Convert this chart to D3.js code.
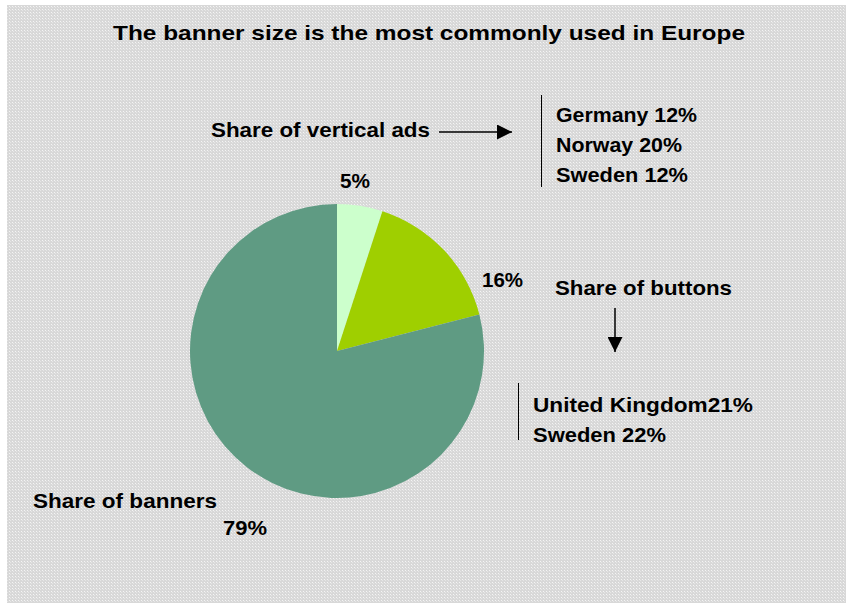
<!DOCTYPE html>
<html>
<head>
<meta charset="utf-8">
<script src="https://cdn.jsdelivr.net/npm/d3@7"></script>
<style>
  html, body { margin: 0; padding: 0; background: #fff; }
  svg { display: block; }
  text { font-family: "Liberation Sans", Arial, sans-serif; font-weight: bold; fill: #000; }
</style>
</head>
<body>
<svg id="chart" width="846" height="603"></svg>
<script>
// Ad format shares (percent), drawn clockwise from 12 o'clock
const formats = ["Share of vertical ads", "Share of buttons", "Share of banners"];
const shares = [5, 16, 79];
const sliceColors = ["#ccffcc", "#9fcf00", "#5f9b83"];

// Country breakdowns shown beside the pie
const verticalCountries = ["Germany", "Norway", "Sweden"];
const verticalShares = [12, 20, 12];
const buttonCountries = ["United Kingdom", "Sweden"];
const buttonShares = [21, 22];

const title = "The banner size is the most commonly used in Europe";

const W = 846, H = 603;
const svg = d3.select("#chart");

// Dotted grey plot-area fill
const defs = svg.append("defs");
const pat = defs.append("pattern")
  .attr("id", "dots").attr("width", 3).attr("height", 3)
  .attr("patternUnits", "userSpaceOnUse");
pat.append("rect").attr("width", 3).attr("height", 3).attr("fill", "#d8d8d8");
pat.append("rect").attr("x", 0).attr("y", 0).attr("width", 1).attr("height", 1).attr("fill", "#f4f4f4");
pat.append("rect").attr("x", 1).attr("y", 1).attr("width", 1).attr("height", 1).attr("fill", "#e6e6e6");

const arrowHead = defs.append("marker")
  .attr("id", "head").attr("viewBox", "0 0 10 10")
  .attr("refX", 10).attr("refY", 5)
  .attr("markerWidth", 15).attr("markerHeight", 15)
  .attr("markerUnits", "userSpaceOnUse")
  .attr("orient", "auto");
arrowHead.append("path").attr("d", "M0,0 L10,5 L0,10 Z").attr("fill", "#000");

svg.append("rect").attr("x", 7).attr("y", 5).attr("width", W - 7).attr("height", H - 5)
  .attr("fill", "url(#dots)");

// Helper: bold label stretched to a given width
function label(txt, x, y, width) {
  const t = svg.append("text").attr("x", x).attr("y", y).attr("font-size", 21).text(txt);
  if (width) t.attr("textLength", width).attr("lengthAdjust", "spacingAndGlyphs");
  return t;
}

label(title, 113, 40, 632);

// Pie
const cx = 337, cy = 351, R = 147;
const pie = d3.pie().sort(null).startAngle(0).endAngle(2 * Math.PI);
const arc = d3.arc().innerRadius(0).outerRadius(R);
const color = d3.scaleOrdinal().domain(formats).range(sliceColors);

const arcs = pie(shares);
svg.append("g").attr("transform", `translate(${cx},${cy})`)
  .selectAll("path").data(arcs).join("path")
  .attr("d", arc)
  .attr("fill", (d, i) => color(formats[i]));

// Percentage labels around the pie
const pctPos = [
  { x: 340, y: 188, w: 30 },
  { x: 482, y: 287, w: 41 },
  { x: 223, y: 535, w: 44 }
];
shares.forEach((v, i) => label(v + "%", pctPos[i].x, pctPos[i].y, pctPos[i].w));

// Format captions
label(formats[0], 211, 137, 219);
label(formats[1], 555, 295, 177);
label(formats[2], 33, 508, 184);

// Arrows from captions to breakdowns
svg.append("line").attr("x1", 439).attr("y1", 132).attr("x2", 512).attr("y2", 132)
  .attr("stroke", "#000").attr("stroke-width", 1.5).attr("marker-end", "url(#head)");
svg.append("line").attr("x1", 615).attr("y1", 308).attr("x2", 615).attr("y2", 352)
  .attr("stroke", "#000").attr("stroke-width", 1.5).attr("marker-end", "url(#head)");

// Vertical-ads breakdown
svg.append("line").attr("x1", 541.5).attr("y1", 95).attr("x2", 541.5).attr("y2", 187)
  .attr("stroke", "#000").attr("stroke-width", 1);
const vWidths = [141, 126, 132];
verticalCountries.forEach((c, i) =>
  label(c + " " + verticalShares[i] + "%", 556, 122 + i * 30, vWidths[i]));

// Buttons breakdown
svg.append("line").attr("x1", 518.5).attr("y1", 383).attr("x2", 518.5).attr("y2", 440)
  .attr("stroke", "#000").attr("stroke-width", 1);
const bWidths = [220, 133];
const bSep = ["", " "];
buttonCountries.forEach((c, i) =>
  label(c + bSep[i] + buttonShares[i] + "%", 533, 412 + i * 30, bWidths[i]));
</script>
</body>
</html>
